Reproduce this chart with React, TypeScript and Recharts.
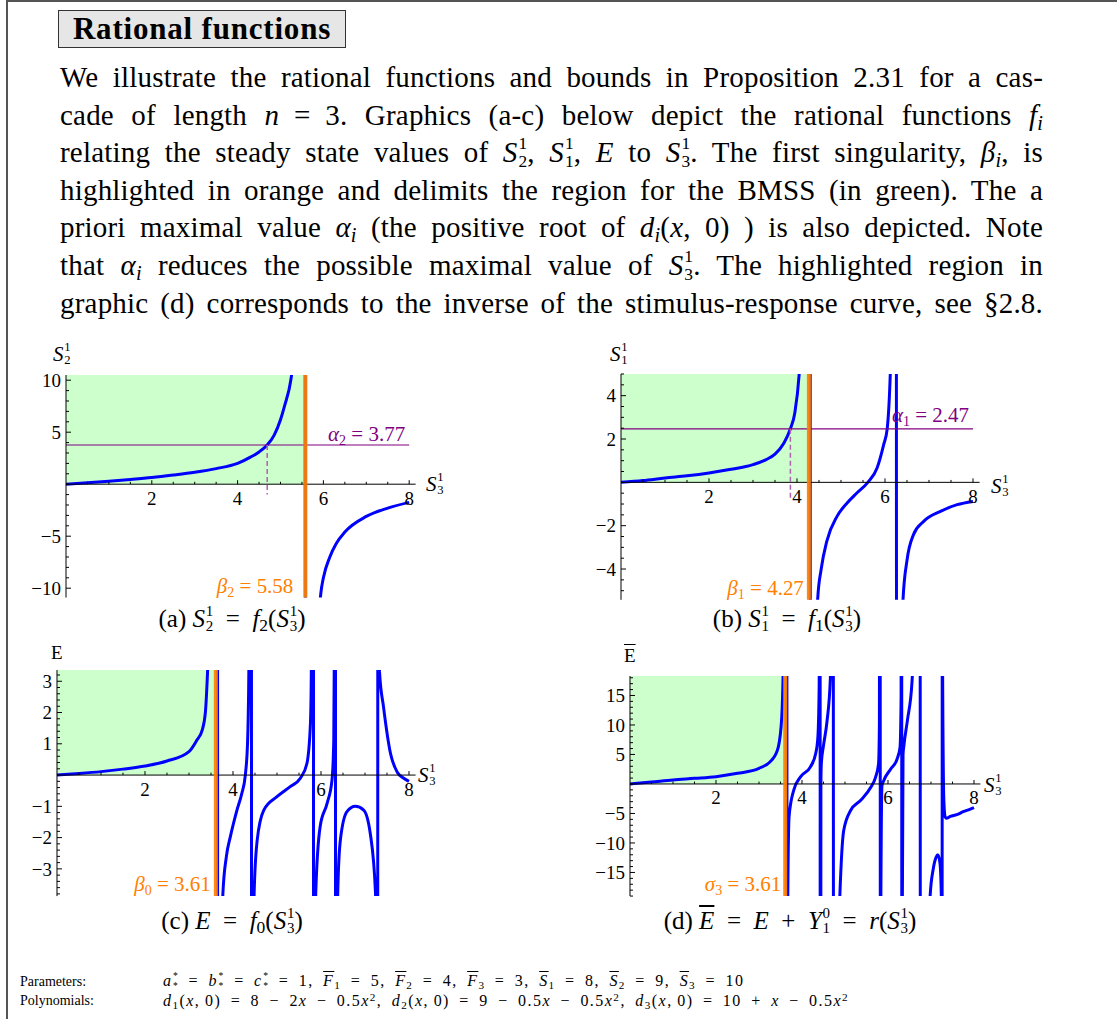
import React from "react";
import { LineChart, Line, XAxis, YAxis, ReferenceLine, ReferenceArea } from "recharts";

const FONT = '"Liberation Serif", "Times New Roman", serif';
const BLUE = "#0000ff";
const ORANGE = "#ff8000";
const PURPLE = "#800080";

// (a) S_2^1 = f_2(S_3^1)
const xA = [
  0, 0.5, 1, 1.5, 2, 2.5, 3, 3.5, 4, 4.3,
  4.5, 4.69, 4.85, 5.0, 5.1, 5.24, 5.35, 5.5, 5.57, 5.59,
  5.7, 5.85, 5.94, 6.0, 6.15, 6.3, 6.5, 7.0, 7.5, 8.0,
];
const yA = [
  0, 0.13, 0.28, 0.45, 0.64, 0.88, 1.15, 1.5, 2.0, 2.6,
  3.1, 3.77, 4.7, 6.2, 7.6, 10, 14, 30, 120, -120,
  -40, -16, -10.5, -9.0, -7.0, -5.7, -4.6, -3.1, -2.3, -1.75,
];

// (b) S_1^1 = f_1(S_3^1)
const xB = [
  0, 0.5, 1, 1.5, 2, 2.5, 3, 3.3, 3.5, 3.7,
  3.85, 3.95, 4.05, 4.15, 4.29, 4.31, 4.4, 4.47, 4.55, 4.68,
  4.91, 5.14, 5.36, 5.61, 5.82, 5.97, 6.05, 6.12, 6.2, 6.25,
  6.27, 6.34, 6.41, 6.5, 6.65, 6.88, 7.26, 7.64, 8.0,
];
const yB = [
  0, 0.08, 0.2, 0.3, 0.43, 0.6, 0.82, 1.05, 1.3, 1.8,
  2.47, 3.2, 5.0, 9, 80, -80, -10, -5.4, -4.0, -2.7,
  -1.57, -0.95, -0.49, 0, 0.66, 1.74, 2.47, 5.0, 12, 60,
  -60, -10, -5.4, -3.6, -2.4, -1.8, -1.34, -1.03, -0.88,
];

// (c) E = f_0(S_3^1)
const xC = [
  0, 0.5, 1, 1.5, 2, 2.5, 3, 3.18, 3.3, 3.37,
  3.42, 3.5, 3.6, 3.64, 3.66, 3.72, 3.77, 3.85, 3.94, 4.09,
  4.2, 4.28, 4.33, 4.36, 4.39, 4.41, 4.43, 4.45, 4.48, 4.55,
  4.7, 5.0, 5.3, 5.53, 5.68, 5.76, 5.78, 5.8, 5.82, 5.84,
  5.86, 5.88, 5.98, 6.14, 6.25, 6.29, 6.3, 6.31, 6.32, 6.34,
  6.36, 6.38, 6.44, 6.59, 6.78, 6.97, 7.12, 7.24, 7.26, 7.28,
  7.3, 7.31, 7.33, 7.42, 7.58, 7.73, 7.88, 8.0,
];
const yC = [
  0, 0.05, 0.11, 0.19, 0.29, 0.45, 0.75, 1.12, 1.44, 1.97,
  3.25, 7, 25, 80, -80, -10, -3.8, -2.6, -1.97, -1.12,
  -0.59, 0, 1.0, 3.3, 10, 80, -80, -10, -3.8, -2.08,
  -1.12, -0.69, -0.37, -0.1, 0.37, 1.65, 3.3, 10, 80, -80,
  -10, -3.8, -1.65, -0.9, -0.16, 1.1, 3.3, 10, 80, -80,
  -10, -3.8, -2.08, -1.17, -1.0, -1.12, -1.87, -3.8, -10, -80,
  80, 10, 3.3, 2.19, 0.69, 0.1, -0.1, -0.2,
];

// (d) Ebar = r(S_3^1)
const xD = [
  0, 0.5, 1, 1.5, 2, 2.5, 3, 3.3, 3.45, 3.53,
  3.56, 3.6, 3.64, 3.66, 3.67, 3.7, 3.81, 3.97, 4.2, 4.32,
  4.37, 4.4, 4.41, 4.42, 4.425, 4.44, 4.45, 4.5, 4.58, 4.66,
  4.7, 4.72, 4.74, 4.8, 4.88, 4.97, 5.13, 5.36, 5.6, 5.71,
  5.78, 5.8, 5.815, 5.825, 5.835, 5.86, 5.9, 6.06, 6.21, 6.28,
  6.305, 6.315, 6.325, 6.335, 6.35, 6.37, 6.45, 6.56, 6.65, 6.74,
  6.76, 6.9, 6.98, 7.05, 7.12, 7.16, 7.21, 7.24, 7.255, 7.265,
  7.27, 7.3, 7.33, 7.36, 7.45, 7.6, 7.75, 7.9, 8.0,
];
const yD = [
  0, 0.33, 0.68, 0.95, 1.24, 1.8, 2.65, 4.07, 6.3, 11.4,
  18.3, 40, 200, -200, -19, -5.5, -1.0, 1.24, 2.94, 5.2,
  8.0, 17, 40, 200, -200, 0, 3.5, 6.5, 10.5, 18,
  60, 200, -200, -40, -19, -7.9, -4.5, -2.8, -0.56, 1.13,
  3.4, 10, 200, -200, -19, -0.3, 0.56, 2.5, 4.2, 6.2,
  15, 200, -200, -19, 5.0, 6.5, 10.7, 17.5, 40, 200,
  -200, -40, -19, -14.5, -12.4, -12.0, -13.5, -19, -200, 200,
  20, -3, -5.6, -5.8, -5.5, -5.2, -4.7, -4.3, -4.0,
];

// axis ticks
const xMajor = [2, 4, 6, 8];
const xMinor = [0.5, 1, 1.5, 2, 2.5, 3, 3.5, 4, 4.5, 5, 5.5, 6, 6.5, 7, 7.5, 8];
const yMajorA = [-10, -5, 5, 10];
const yMajorB = [-4, -2, 2, 4];
const yMajorC = [-3, -2, -1, 1, 2, 3];
const yMajorD = [-15, -10, -5, 5, 10, 15];

const stepTicks = (lo: number, hi: number, step: number) => {
  const out: number[] = [];
  for (let k = Math.ceil(lo / step); k * step <= hi + 1e-9; k++) out.push(Math.round(k * step * 100) / 100);
  return out;
};

const fmt = (v: number) => (v < 0 ? `\u2212${-v}` : `${v}`);
const EQ = "\u2002=\u2002";
const EN = "\u2002";

const YTick = (props: any) => {
  const { x, y, payload, majors } = props;
  const v = payload.value;
  const major = majors.some((m: number) => Math.abs(m - v) < 1e-6);
  return (
    <g>
      <line x1={x} x2={x + (major ? 5 : 3)} y1={y} y2={y} stroke="#000" strokeWidth={1} />
      {major && (
        <text x={x - 5} y={y} dy="0.35em" textAnchor="end" fontSize={19} fontFamily={FONT} fill="#000">
          {fmt(v)}
        </text>
      )}
    </g>
  );
};

const VLabel = (props: any) => {
  const { viewBox, sym, sub, val, dx } = props;
  if (!viewBox) return null;
  return (
    <text x={viewBox.x - dx} y={viewBox.y + viewBox.height - 5} textAnchor="end" fill={ORANGE} fontSize={21} fontFamily={FONT}>
      <tspan fontStyle="italic">{sym}</tspan>
      <tspan fontSize={14} dy={4}>{sub}</tspan>
      <tspan dy={-4}>{`\u00a0=\u00a0${val}`}</tspan>
    </text>
  );
};

const HLabel = (props: any) => {
  const { viewBox, sub, val, dx, dy } = props;
  if (!viewBox) return null;
  return (
    <text x={viewBox.x + viewBox.width - dx} y={viewBox.y - dy} textAnchor="end" fill={PURPLE} fontSize={21} fontFamily={FONT}>
      <tspan fontStyle="italic">α</tspan>
      <tspan fontSize={14} dy={4}>{sub}</tspan>
      <tspan dy={-4}>{`\u00a0=\u00a0${val}`}</tspan>
    </text>
  );
};

type PanelProps = {
  xs: number[];
  ys: number[];
  left: number;
  top: number;
  unitX: number;
  yDomain: [number, number];
  unitY: number;
  yMajor: number[];
  yStep: number;
  beta: number;
  betaSym: string;
  betaSub: string;
  betaDx: number;
  alpha?: number;
  alphaSub?: string;
  alphaX?: number;
  alphaDrop?: number;
  alphaDy?: number;
};

const Panel = (p: PanelProps) => {
  const data = p.xs.map((x, i) => ({ x, y: p.ys[i] }));
  const plotW = 8.15 * p.unitX;
  const plotH = (p.yDomain[1] - p.yDomain[0]) * p.unitY;
  const tickLen = 4 / p.unitY;
  const yTicks = stepTicks(p.yDomain[0], p.yDomain[1], p.yStep);
  return (
    <div style={{ position: "absolute", left: p.left - 40, top: p.top - 4 }}>
      <LineChart width={plotW + 44} height={plotH + 8} data={data} margin={{ top: 4, right: 4, bottom: 4, left: 0 }}>
        <XAxis dataKey="x" type="number" domain={[0, 8.15]} allowDataOverflow hide />
        <YAxis
          type="number"
          domain={p.yDomain}
          allowDataOverflow
          width={40}
          ticks={yTicks}
          interval={0}
          tickSize={0}
          tickMargin={0}
          tickLine={false}
          axisLine={{ stroke: "#000" }}
          tick={<YTick majors={p.yMajor} />}
        />
        <Line dataKey="y" type="monotone" stroke={BLUE} strokeWidth={3} dot={false} isAnimationActive={false} />
        <ReferenceArea x1={0} x2={p.beta} y1={0} y2={p.yDomain[1]} fill="#00ff00" fillOpacity={0.2} stroke="none" />
        <ReferenceLine y={0} stroke="#000" strokeWidth={1} />
        {xMinor.map((t) => {
          const major = xMajor.includes(t);
          return (
            <ReferenceLine
              key={t}
              segment={[{ x: t, y: 0 }, { x: t, y: major ? tickLen : tickLen * 0.6 }]}
              stroke="#000"
              strokeWidth={1}
              label={major ? { value: `${t}`, position: "bottom", offset: 7, fill: "#000", fontSize: 19, fontFamily: FONT } : undefined}
            />
          );
        })}
        {p.alpha !== undefined && (
          <ReferenceLine
            segment={[{ x: 0, y: p.alpha }, { x: 8, y: p.alpha }]}
            stroke={PURPLE}
            strokeWidth={1.2}
            label={<HLabel sub={p.alphaSub} val={p.alpha} dx={4} dy={p.alphaDy} />}
          />
        )}
        {p.alpha !== undefined && (
          <ReferenceLine
            segment={[{ x: p.alphaX, y: p.alpha }, { x: p.alphaX, y: p.alphaDrop }]}
            stroke="#b060b0"
            strokeWidth={1.5}
            strokeDasharray="5 3"
          />
        )}
        <ReferenceLine
          x={p.beta}
          stroke={ORANGE}
          strokeOpacity={0.93}
          strokeWidth={4}
          label={<VLabel sym={p.betaSym} sub={p.betaSub} val={p.beta.toFixed(2)} dx={p.betaDx} />}
        />
      </LineChart>
    </div>
  );
};

const SS = ({ b, sup, sub, it = true }: { b: React.ReactNode; sup: string; sub: string; it?: boolean }) => (
  <span style={{ display: "inline-flex", alignItems: "center" }}>
    <span style={{ fontStyle: it ? "italic" : "normal" }}>{b}</span>
    <span style={{ display: "inline-flex", flexDirection: "column", fontSize: "0.6em", lineHeight: 1.02, marginLeft: "0.05em", fontStyle: "normal" }}>
      <span>{sup}</span>
      <span>{sub}</span>
    </span>
  </span>
);

const Sub = ({ c, it = false }: { c: string; it?: boolean }) => (
  <sub style={{ fontSize: "0.7em", verticalAlign: "-0.25em", lineHeight: 0, fontStyle: it ? "italic" : "normal" }}>{c}</sub>
);
const Sup = ({ c }: { c: string }) => (
  <sup style={{ fontSize: "0.7em", verticalAlign: "0.45em", lineHeight: 0 }}>{c}</sup>
);
const Bar = ({ c, it = true }: { c: string; it?: boolean }) => (
  <span style={{ textDecoration: "overline", fontStyle: it ? "italic" : "normal" }}>{c}</span>
);

const lines: React.ReactNode[] = [
  <>We illustrate the rational functions and bounds in Proposition 2.31 for a cas-</>,
  <>
    cade of length <i>n</i>{EQ}3. Graphics (a-c) below depict the rational functions <i>f</i>
    <Sub c="i" it />
  </>,
  <>
    relating the steady state values of <SS b="S" sup="1" sub="2" />, <SS b="S" sup="1" sub="1" />, <i>E</i> to{" "}
    <SS b="S" sup="1" sub="3" />. The first singularity, <i>β</i>
    <Sub c="i" it />, is
  </>,
  <>highlighted in orange and delimits the region for the BMSS (in green). The a</>,
  <>
    priori maximal value <i>α</i>
    <Sub c="i" it /> (the positive root of <i>d</i>
    <Sub c="i" it />(<i>x</i>, 0) ) is also depicted. Note
  </>,
  <>
    that <i>α</i>
    <Sub c="i" it /> reduces the possible maximal value of <SS b="S" sup="1" sub="3" />. The highlighted region in
  </>,
  <>graphic (d) corresponds to the inverse of the stimulus-response curve, see §2.8.</>,
];

const abs = (left: number, top: number, extra: React.CSSProperties = {}): React.CSSProperties => ({
  position: "absolute",
  left,
  top,
  whiteSpace: "nowrap",
  ...extra,
});

const Caption = ({ cx, cy, children }: { cx: number; cy: number; children: React.ReactNode }) => (
  <div style={abs(cx - 200, cy - 16, { width: 400, textAlign: "center", fontSize: 25, lineHeight: "32px" })}>{children}</div>
);

const footMath: React.CSSProperties = { fontSize: 16, lineHeight: "19px", letterSpacing: 1.45 };

export default function App() {
  return (
    <div style={{ position: "absolute", left: 0, top: 0, width: 1117, height: 1019, overflow: "hidden", background: "#fff", fontFamily: FONT, color: "#000" }}>
      <div style={{ position: "absolute", left: 6, top: 0, width: 1200, height: 1100, borderLeft: "2px solid #555", borderTop: "2px solid #555" }} />

      <div
        style={abs(58, 10, {
          width: 286,
          height: 36,
          background: "#e6e6e6",
          border: "1px solid #333",
          fontWeight: "bold",
          fontSize: 31,
          letterSpacing: 0.8,
          lineHeight: "36px",
          textAlign: "center",
        })}
      >
        Rational functions
      </div>

      {lines.map((l, i) => (
        <div
          key={i}
          style={{
            position: "absolute",
            left: 60,
            top: 59 + i * 37.6,
            width: 983,
            fontSize: 29,
            letterSpacing: 0.2,
            lineHeight: "37px",
            textAlign: "justify",
            textAlignLast: "justify",
          }}
        >
          {l}
        </div>
      ))}

      <Panel xs={xA} ys={yA} left={66} top={375} unitX={42.9} yDomain={[-10.9, 10.5]} unitY={10.4} yMajor={yMajorA} yStep={1}
        beta={5.58} betaSym="β" betaSub="2" betaDx={12} alpha={3.77} alphaSub="2" alphaX={4.69} alphaDrop={-1.0} alphaDy={4} />
      <Panel xs={xB} ys={yB} left={621} top={374.3} unitX={44} yDomain={[-5.42, 5.0]} unitY={21.67} yMajor={yMajorB} yStep={0.5}
        beta={4.27} betaSym="β" betaSub="1" betaDx={5} alpha={2.47} alphaSub="1" alphaX={3.85} alphaDrop={-0.8} alphaDy={7} />
      <Panel xs={xC} ys={yC} left={57} top={670} unitX={44} yDomain={[-3.87, 3.36]} unitY={31.27} yMajor={yMajorC} yStep={0.2}
        beta={3.61} betaSym="β" betaSub="0" betaDx={5} />
      <Panel xs={xD} ys={yD} left={629.5} top={676} unitX={43} yDomain={[-19, 18.3]} unitY={5.9} yMajor={yMajorD} yStep={1}
        beta={3.61} betaSym="σ" betaSub="3" betaDx={4} />

      <div style={abs(53, 341, { fontSize: 21, lineHeight: "26px" })}><SS b="S" sup="1" sub="2" /></div>
      <div style={abs(610, 341, { fontSize: 21, lineHeight: "26px" })}><SS b="S" sup="1" sub="1" /></div>
      <div style={abs(51, 642, { fontSize: 19, lineHeight: "22px" })}>E</div>
      <div style={abs(624, 645, { fontSize: 19, lineHeight: "22px" })}><Bar c="E" it={false} /></div>

      <div style={abs(426, 471, { fontSize: 21, lineHeight: "26px" })}><SS b="S" sup="1" sub="3" /></div>
      <div style={abs(991, 473, { fontSize: 21, lineHeight: "26px" })}><SS b="S" sup="1" sub="3" /></div>
      <div style={abs(418, 762, { fontSize: 21, lineHeight: "26px" })}><SS b="S" sup="1" sub="3" /></div>
      <div style={abs(984, 772, { fontSize: 21, lineHeight: "26px" })}><SS b="S" sup="1" sub="3" /></div>

      <Caption cx={232} cy={619}>
        (a) <SS b="S" sup="1" sub="2" />{EQ}<i>f</i><Sub c="2" />(<SS b="S" sup="1" sub="3" />)
      </Caption>
      <Caption cx={787} cy={619}>
        (b) <SS b="S" sup="1" sub="1" />{EQ}<i>f</i><Sub c="1" />(<SS b="S" sup="1" sub="3" />)
      </Caption>
      <Caption cx={232} cy={921}>
        (c) <i>E</i>{EQ}<i>f</i><Sub c="0" />(<SS b="S" sup="1" sub="3" />)
      </Caption>
      <Caption cx={790} cy={921}>
        (d) <Bar c="E" />{EQ}<i>E</i>{"\u2002+\u2002"}<SS b="Y" sup="0" sub="1" />{EQ}<i>r</i>(<SS b="S" sup="1" sub="3" />)
      </Caption>

      <div style={abs(20, 972, { fontSize: 14, lineHeight: "19px" })}>Parameters:</div>
      <div style={abs(163, 971, footMath)}>
        <SS b="a" sup="*" sub="*" />{EQ}<SS b="b" sup="*" sub="*" />{EQ}<SS b="c" sup="*" sub="*" />{EQ}1,{EN}
        <Bar c="F" /><Sub c="1" />{EQ}5,{EN}<Bar c="F" /><Sub c="2" />{EQ}4,{EN}<Bar c="F" /><Sub c="3" />{EQ}3,{EN}
        <Bar c="S" /><Sub c="1" />{EQ}8,{EN}<Bar c="S" /><Sub c="2" />{EQ}9,{EN}<Bar c="S" /><Sub c="3" />{EQ}10
      </div>
      <div style={abs(20, 991, { fontSize: 14, lineHeight: "19px" })}>Polynomials:</div>
      <div style={abs(163, 991, footMath)}>
        <i>d</i><Sub c="1" />(<i>x</i>,{"\u2009"}0){EQ}8{EN}−{EN}2<i>x</i>{EN}−{EN}0.5<i>x</i><Sup c="2" />,{EN}<i>d</i><Sub c="2" />(<i>x</i>,{"\u2009"}0){EQ}9{EN}−{EN}0.5<i>x</i>{EN}−{EN}0.5<i>x</i><Sup c="2" />,{EN}
        <i>d</i><Sub c="3" />(<i>x</i>,{"\u2009"}0){EQ}10{EN}+{EN}<i>x</i>{EN}−{EN}0.5<i>x</i><Sup c="2" />
      </div>
    </div>
  );
}
